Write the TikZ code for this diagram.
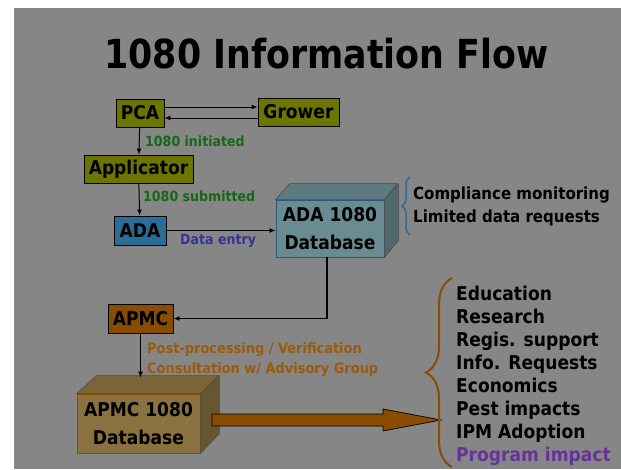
\documentclass[tikz,border=0pt]{standalone}
\usepackage{fontspec}
\setmainfont[FakeStretch=0.9]{DejaVu Sans}
\usepackage{graphicx}
\usetikzlibrary{decorations.pathreplacing,arrows.meta}

\definecolor{slidegray}{RGB}{134,134,134}
\definecolor{olivebox}{RGB}{108,117,0}
\definecolor{adablue}{RGB}{46,108,152}
\definecolor{apmcbrown}{RGB}{137,76,0}
\definecolor{dbfront}{RGB}{104,140,146}
\definecolor{dbtop}{RGB}{92,122,127}
\definecolor{dbside}{RGB}{78,104,108}
\definecolor{dbedge}{RGB}{40,88,128}
\definecolor{tanfront}{RGB}{138,114,64}
\definecolor{tantop}{RGB}{122,101,56}
\definecolor{tanside}{RGB}{104,86,47}
\definecolor{stepgreen}{RGB}{22,104,22}
\definecolor{entryblue}{RGB}{52,52,150}
\definecolor{procorange}{RGB}{156,90,10}
\definecolor{impactpurple}{RGB}{102,52,150}

\tikzset{
  flowbox/.style={draw=black, line width=0.8pt, inner sep=0pt,
    minimum height=28pt, font=\fontsize{19}{22}\selectfont\bfseries},
  steplabel/.style={anchor=base west, inner sep=0pt,
    font=\fontsize{14}{16}\selectfont\bfseries},
  flowarrow/.style={draw=black, line width=1pt, -{Latex[length=6pt,width=5pt]}},
  dbtext/.style={inner sep=0pt, align=center,
    font=\fontsize{19}{28}\selectfont\bfseries},
  uselist/.style={anchor=base west, inner sep=0pt,
    font=\fontsize{19}{22}\selectfont\bfseries},
}

\begin{document}
\begin{tikzpicture}[x=1pt,y=-1pt]
  \useasboundingbox (0,0) rectangle (621,469);
  \fill[white] (0,0) rectangle (621,469);
  \fill[slidegray] (14,8) rectangle (621,469);

  % title
  \node[anchor=base, inner sep=0pt] (title) at (326.5,68)
    {\scalebox{0.967}[1]{\fontsize{40}{48}\selectfont\bfseries 1080 Information Flow}};

  % people and offices
  \node[flowbox, fill=olivebox, minimum width=48pt] (pca) at (140,113) {PCA};
  \node[flowbox, fill=olivebox, minimum width=81pt] (grower) at (298.5,112) {Grower};
  \node[flowbox, fill=olivebox, minimum width=109pt] (applicator) at (138.5,169) {Applicator};
  \node[flowbox, fill=adablue, minimum width=52pt, minimum height=29pt] (ada) at (140,230.5) {ADA};
  \node[flowbox, fill=apmcbrown, minimum width=65pt, minimum height=29pt] (apmc) at (140.5,318.5) {APMC};

  % ADA database box
  \node[dbtext, draw=dbedge, line width=0.8pt, fill=dbfront,
    minimum width=108pt, minimum height=57pt] (adadb) at (330,228.5) {ADA 1080\\Database};
  \filldraw[fill=dbtop, draw=black!70, line width=0.6pt]
    (adadb.north west) -- ++(14,-16) -- ++(108,0) -- (adadb.north east) -- cycle;
  \filldraw[fill=dbside, draw=black!70, line width=0.6pt]
    (adadb.north east) -- ++(14,-16) -- ++(0,57) -- (adadb.south east) -- cycle;

  % APMC database box
  \node[dbtext, draw=apmcbrown, line width=0.8pt, fill=tanfront,
    minimum width=123pt, minimum height=59pt] (apmcdb) at (138.5,423.5) {APMC 1080\\Database};
  \filldraw[fill=tantop, draw=black!70, line width=0.6pt]
    (apmcdb.north west) -- ++(20,-18) -- ++(122,0) -- (apmcdb.north east) -- cycle;
  \filldraw[fill=tanside, draw=black!70, line width=0.6pt]
    (apmcdb.north east) -- ++(19,-18) -- ++(0,58) -- (apmcdb.south east) -- cycle;
  \coordinate (apmcdbtop) at ([yshift=16pt]apmcdb.north);

  % flow between them
  \draw[flowarrow] ([yshift=6pt]pca.east) -- ([yshift=6pt]pca.east -| grower.west);
  \draw[flowarrow] ([yshift=-6pt]grower.west) -- ([yshift=-6pt]grower.west -| pca.east);
  \draw[flowarrow] (pca) -- (applicator);
  \draw[flowarrow] (applicator) -- (ada);
  \draw[flowarrow] (ada) -- (ada -| adadb.west);
  \draw[flowarrow, line width=1.5pt] ([xshift=-3pt]adadb.south) |- (apmc);
  \draw[flowarrow] (apmc) -- (apmc |- apmcdbtop);

  \node[steplabel, text=stepgreen] (initiated) at (145,146) {1080 initiated};
  \node[steplabel, text=stepgreen] (submitted) at (143,201) {1080 submitted};
  \node[steplabel, text=entryblue] (entry) at (180,244) {Data entry};
  \node[steplabel, text=procorange, font=\fontsize{14.4}{16}\selectfont\bfseries] (postproc) at (147,353)
    {Post-processing / Verification};
  \node[steplabel, text=procorange, font=\fontsize{14.4}{16}\selectfont\bfseries] (consult) at (147,373)
    {Consultation w/ Advisory Group};

  % ADA uses
  \draw[adablue, line width=1.5pt, decorate, decoration={brace,amplitude=8pt}]
    (410,235) -- (410,177);
  \node[uselist, font=\fontsize{16.7}{20}\selectfont\bfseries] (compliance) at (413,199) {Compliance monitoring};
  \node[uselist, font=\fontsize{16.7}{20}\selectfont\bfseries] (limited) at (413,222) {Limited data requests};

  % APMC uses
  \coordinate (arrowstart) at (212,420);
  \coordinate (bracetip) at (441,420);
  \draw[fill=apmcbrown, draw=black, line width=0.7pt]
    (arrowstart) ++(0,-6) -- ++(171,0) -- ++(0,-5) -- (bracetip)
    -- ++(-58,11) -- ++(0,-5) -- ++(-171,0) -- cycle;
  \draw[apmcbrown, line width=2pt, decorate, decoration={brace,amplitude=26pt}]
    (452,467) -- (452,278);
  \node[uselist] (education) at (456,300) {Education};
  \node[uselist] (research) at (456,323) {Research};
  \node[uselist] (regis) at (456,346) {Regis. support};
  \node[uselist] (inforeq) at (456,369) {Info. Requests};
  \node[uselist] (economics) at (456,392) {Economics};
  \node[uselist] (pest) at (456,415) {Pest impacts};
  \node[uselist] (ipm) at (456,438) {IPM Adoption};
  \node[uselist, text=impactpurple] (impact) at (456,461) {Program impact};
\end{tikzpicture}
\end{document}
